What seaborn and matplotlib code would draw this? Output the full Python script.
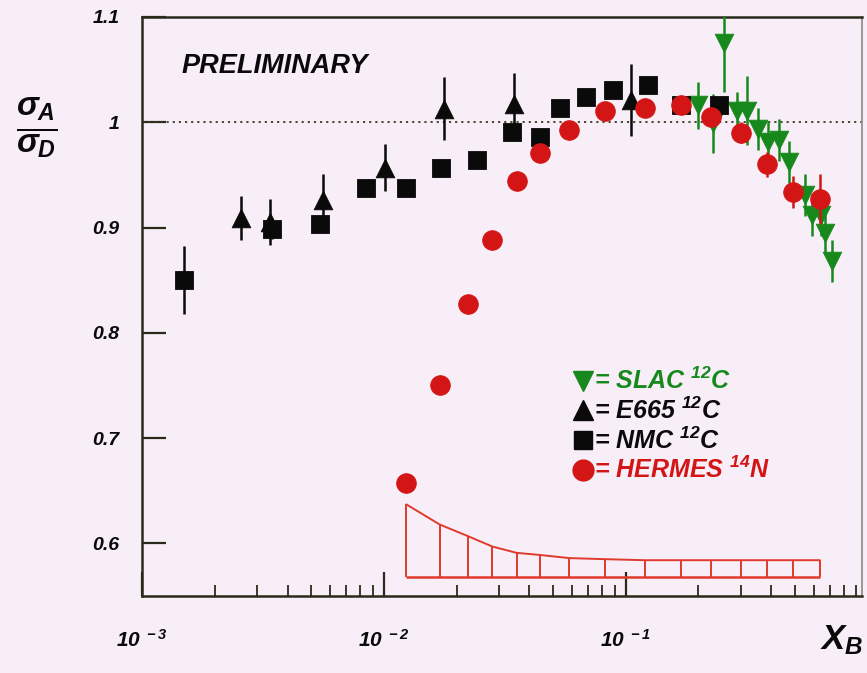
import numpy as np
import pandas as pd
import matplotlib
matplotlib.use("Agg")
import matplotlib.pyplot as plt
from matplotlib.lines import Line2D
from matplotlib.ticker import FixedLocator, LogLocator, NullFormatter
import seaborn as sns

# ---------------- data ----------------
nmc_x = [0.00149, 0.00346, 0.00546, 0.00846, 0.0124, 0.0173, 0.0244, 0.0340, 0.0441,
         0.0538, 0.0689, 0.0883, 0.1234, 0.1689, 0.2427]
nmc_y = [0.850, 0.899, 0.903, 0.938, 0.938, 0.957, 0.964, 0.991, 0.986,
         1.014, 1.024, 1.031, 1.035, 1.016, 1.016]
nmc_err = [0.032, 0.010, 0.008, 0.007, 0.006, 0.006, 0.006, 0.006, 0.006,
           0.006, 0.006, 0.006, 0.006, 0.006, 0.006]

e665_x = [0.00257, 0.00339, 0.00562, 0.0101, 0.0178, 0.0344, 0.1049]
e665_y = [0.909, 0.905, 0.926, 0.957, 1.013, 1.017, 1.021]
e665_err = [0.021, 0.022, 0.025, 0.022, 0.030, 0.030, 0.034]

slac_x = [0.199, 0.229, 0.255, 0.288, 0.317, 0.352, 0.388, 0.430, 0.473,
          0.551, 0.589, 0.641, 0.667, 0.713]
slac_y = [1.016, 0.999, 1.075, 1.011, 1.011, 0.994, 0.981, 0.983, 0.962,
          0.931, 0.912, 0.912, 0.895, 0.868]
slac_err = [0.022, 0.028, 0.046, 0.018, 0.033, 0.020, 0.020, 0.020, 0.020,
            0.020, 0.020, 0.020, 0.020, 0.020]

hermes_x = [0.0124, 0.0170, 0.0222, 0.0281, 0.0354, 0.0441, 0.0586, 0.0819, 0.1199,
            0.1689, 0.2249, 0.2994, 0.3836, 0.4914, 0.6358]
hermes_y = [0.657, 0.750, 0.827, 0.888, 0.944, 0.971, 0.993, 1.011, 1.014,
            1.016, 1.005, 0.990, 0.960, 0.934, 0.927]
hermes_err = [0.004, 0.004, 0.004, 0.004, 0.004, 0.005, 0.005, 0.005, 0.006,
              0.007, 0.008, 0.010, 0.012, 0.015, 0.024]
hermes_sys = [0.069, 0.050, 0.039, 0.029, 0.023, 0.021, 0.018, 0.017, 0.016,
              0.016, 0.016, 0.016, 0.016, 0.016, 0.016]
sys_base = 0.568

y_ticks = [0.6, 0.7, 0.8, 0.9, 1.0, 1.1]
y_ticklabels = ["0.6", "0.7", "0.8", "0.9", "1", "1.1"]
x_ticks = [1e-3, 1e-2, 1e-1]
x_ticklabels = [r"$10^{\,\,-3}$", r"$10^{\,\,-2}$", r"$10^{\,\,-1}$"]

series_labels = [r"= SLAC $^{12}$C", r"= E665 $^{12}$C", r"= NMC $^{12}$C", r"= HERMES $^{14}$N"]

# ---------------- style ----------------
BG = "#f8eef8"
GREEN = "#17891c"
RED = "#d41515"
BLACK = "#0a0a0a"
BAND = "#e03a2c"
AXC = "#2a2a1a"

sns.set_theme(style="white")
FONT = "Liberation Sans"
plt.rcParams["font.family"] = [FONT, "DejaVu Sans"]
plt.rcParams["font.weight"] = "bold"
plt.rcParams["font.style"] = "italic"
plt.rcParams["text.color"] = BLACK
plt.rcParams["xtick.color"] = AXC
plt.rcParams["ytick.color"] = AXC
plt.rcParams["xtick.labelcolor"] = BLACK
plt.rcParams["ytick.labelcolor"] = BLACK
plt.rcParams["mathtext.fontset"] = "custom"
plt.rcParams["mathtext.rm"] = "Liberation Sans:bold:italic"
plt.rcParams["mathtext.it"] = "Liberation Sans:bold:italic"
plt.rcParams["mathtext.bf"] = "Liberation Sans:bold:italic"
plt.rcParams["mathtext.sf"] = "Liberation Sans:bold:italic"

fig = plt.figure(figsize=(8.67, 6.73), dpi=100, facecolor=BG)
ax = fig.add_axes([142 / 867, 77 / 673, 720 / 867, 579 / 673])
ax.set_facecolor(BG)

ax.set_xscale("log")
ax.set_xlim(1e-3, 0.95)
ax.set_ylim(0.55, 1.1)

# reference line at 1
ax.axhline(1.0, color="#3a3a22", lw=1.3, ls=(0, (1.2, 2.2)), zorder=1)

# systematic band for HERMES
hx = np.array(hermes_x)
htop = sys_base + np.array(hermes_sys)
ax.plot(hx, htop, color=BAND, lw=1.4, zorder=2)
ax.vlines(hx, sys_base, htop, color=BAND, lw=1.4, zorder=2)
ax.hlines(sys_base, hx[0], hx[-1], color=BAND, lw=1.8, zorder=2)

def draw(xs, ys, errs, marker, color, size, z):
    df = pd.DataFrame({"x": xs, "y": ys})
    ax.errorbar(xs, ys, yerr=errs, fmt="none", ecolor=color, elinewidth=1.8,
                capsize=0, zorder=z)
    sns.scatterplot(data=df, x="x", y="y", marker=marker, color=color, s=size,
                    edgecolor=color, linewidth=0.6, ax=ax, zorder=z + 0.5,
                    legend=False)

draw(slac_x, slac_y, slac_err, "v", GREEN, 180, 3)
draw(nmc_x, nmc_y, nmc_err, "s", BLACK, 175, 4)
draw(e665_x, e665_y, e665_err, "^", BLACK, 180, 5)
draw(hermes_x, hermes_y, hermes_err, "o", RED, 200, 6)

ax.set_xlabel("")
ax.set_ylabel("")

# ticks
ax.xaxis.set_major_locator(FixedLocator(x_ticks))
ax.set_xticklabels(x_ticklabels)
ax.xaxis.set_minor_locator(LogLocator(base=10, subs=np.arange(2, 10), numticks=20))
ax.xaxis.set_minor_formatter(NullFormatter())
ax.set_yticks(y_ticks)
ax.set_yticklabels(y_ticklabels)
ax.tick_params(which="both", bottom=True, left=True, top=False, right=False)
ax.tick_params(axis="both", which="major", direction="in", length=17, width=1.6,
               color=AXC, labelsize=14, labelcolor=BLACK)
ax.tick_params(axis="x", which="minor", direction="in", length=8, width=1.3,
               color=AXC)
ax.tick_params(axis="x", which="major", pad=24, labelsize=15)
ax.tick_params(axis="y", which="major", pad=16)
for lab in ax.get_xticklabels() + ax.get_yticklabels():
    lab.set_fontweight("bold")
    lab.set_fontstyle("italic")

for sp in ax.spines.values():
    sp.set_color(AXC)
    sp.set_linewidth(1.8)
ax.spines["right"].set_color("#8a8a80")
ax.spines["right"].set_linewidth(1.2)

# texts
ax.text(0.055, 0.915, "PRELIMINARY", transform=ax.transAxes, fontsize=19.5,
        fontweight="bold", fontstyle="italic", color=BLACK, ha="left", va="center")

fig.text(37 / 867, 1 - 128 / 673, r"$\frac{\sigma_{A}}{\sigma_{D}}$", fontsize=34,
         ha="center", va="center", color=BLACK)

fig.text(820 / 867, 1 - 640 / 673, r"$X_{B}$", fontsize=25, ha="left",
         va="center", color=BLACK)

# legend
handles = [
    Line2D([], [], marker="v", color=GREEN, ls="none", markersize=14),
    Line2D([], [], marker="^", color=BLACK, ls="none", markersize=14),
    Line2D([], [], marker="s", color=BLACK, ls="none", markersize=13),
    Line2D([], [], marker="o", color=RED, ls="none", markersize=15),
]
leg = ax.legend(handles, series_labels, loc="upper left", bbox_to_anchor=(0.586, 0.411),
                frameon=False, handlelength=0.75, handletextpad=0.05,
                labelspacing=0.13, borderaxespad=0,
                labelcolor=[GREEN, BLACK, BLACK, RED],
                prop={"family": FONT, "weight": "bold", "style": "italic", "size": 18})

fig.savefig("out.png", dpi=100, facecolor=BG)
